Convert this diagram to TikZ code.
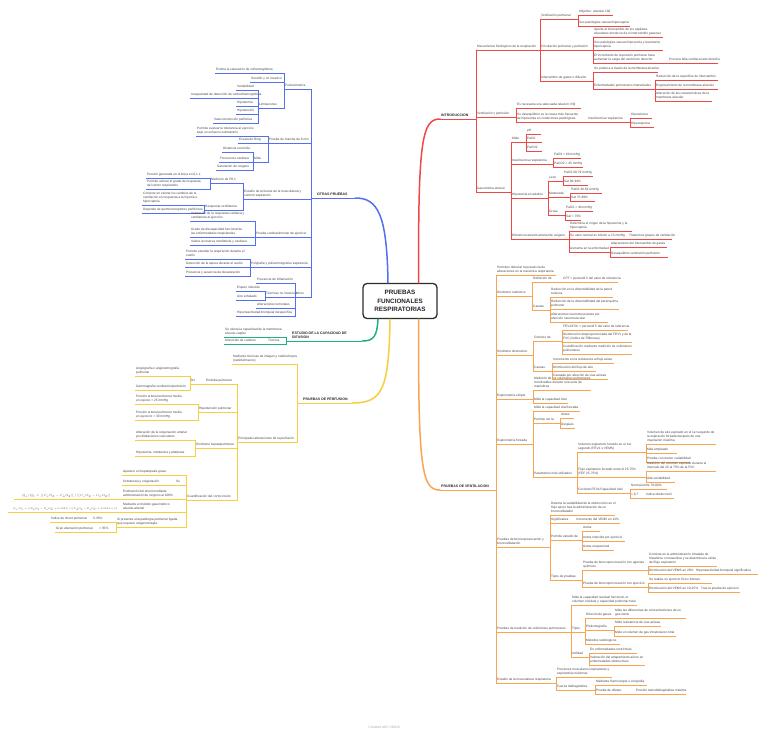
\documentclass[tikz,border=0pt]{standalone}
\usepackage{graphicx}
\usepackage{fontspec}
\setmainfont{Liberation Sans}
\definecolor{cR}{RGB}{240,72,72}
\definecolor{cO}{RGB}{249,164,82}
\definecolor{cB}{RGB}{82,112,240}
\definecolor{cG}{RGB}{32,178,122}
\definecolor{cY}{RGB}{246,206,62}
\definecolor{tx}{RGB}{70,70,70}
\definecolor{ctrc}{RGB}{45,45,45}
\def\bc{cR}
\tikzset{
 nd/.style={inner xsep=0pt, inner ysep=0.7pt, text=tx, font=\fontsize{3.2}{4}\selectfont},
 ul/.style={draw=\bc, line width=0.8pt},
 br/.style={line width=1.5pt, line cap=round},
}
\newcommand\MT[1]{{\fontsize{3.5}{4.3}\selectfont\bfseries\color{black!85}#1}}
\newcommand\N[5]{%
  \pgfmathsetmacro\nw{#3-#2}%
  \node[nd,anchor=south west] (#1) at (#2,#4) {\makebox[\nw pt][l]{\hspace{1pt}\begin{tabular}[b]{@{}l@{}}#5\end{tabular}}};
  \draw[ul] (#1.south west) -- (#1.south east);}
\newcommand\CR[2]{\draw[ul] (#1.south east) |- (#2.south west);}
\newcommand\CL[2]{\draw[ul] (#1.south west) |- (#2.south east);}
\begin{document}
\begin{tikzpicture}[x=1pt,y=-1pt]
\fill[white] (0,0) rectangle (768,733);
\useasboundingbox (0,0) rectangle (768,733);

\node[draw=ctrc, line width=1.3pt, rounded corners=4pt, minimum width=74pt, minimum height=35pt, align=center, font=\fontsize{6.3}{8.2}\selectfont\bfseries, text=black!85, inner sep=1pt] (ctr) at (400,301) {PRUEBAS\\FUNCIONALES\\RESPIRATORIAS};

% ================= RED: INTRODUCCION
\def\bc{cR}
\N{intro}{440}{476}{119}{\MT{INTRODUCCION}}
\N{mec}{476}{540}{50}{Mecanismos fisiológicos de la respiración}
\N{vp}{540}{578}{19}{Ventilación pulmonar}
\N{vpa}{578}{613}{15}{Objetivo: alveolar 100}
\N{vpb}{578}{630}{26}{Sus patologías causan hipercapnia}
\N{cp}{540}{593}{50}{Circulación pulmonar y perfusión}
\N{cpa}{593}{663}{37}{Aporte al intercambio de los capilares\\alveolares donde se da el intercambio gaseoso}
\N{cpb}{593}{663}{50}{Sus patologías causan hipoxemia y levemente\\hipercapnia}
\N{cpc}{593}{668}{63}{El incremento de la presión pulmonar hace\\aumentar la carga del ventrículo derecho}
\N{cpd}{668}{718}{63}{Provoca falla cardiaca lado derecho}
\N{ig}{540}{593}{81}{Intercambio de gases o difusión}
\N{iga}{593}{658}{72}{Se produce a través de la membrana alveolar}
\N{igb}{593}{655}{89}{Enfermedades pulmonares intersticiales}
\N{igc}{655}{718}{80}{Reducción de la superficie de intercambio}
\N{igd}{655}{718}{89}{Engrosamiento de la membrana alveolar}
\N{ige}{655}{712}{101}{Alteración de las características de la\\membrana alveolar}
\N{vyp}{476}{516}{117}{Ventilación y perfusión}
\N{vypa}{516}{581}{108}{Es necesaria una adecuada relación V/Q}
\N{vypb}{516}{587}{122}{Su desequilibrio es la causa más frecuente\\de hipoxemia en condiciones patológicas}
\N{vypc}{587}{630}{122}{Insuficiencia respiratoria}
\N{vypd}{630}{652}{118}{Hipoxémica}
\N{vype}{630}{654}{127}{Hipercápnica}
\N{gas}{476}{511}{192}{Gasometría arterial}
\N{mide}{511}{526}{142}{Mide}
\N{ph}{526}{541}{134}{pH}
\N{pao}{526}{542}{142}{PaO2}
\N{paco}{526}{542}{151}{PaCO2}
\N{ir}{511}{553}{164}{Insuficiencia respiratoria}
\N{ira}{553}{581}{158}{PaO2 < 60 mmHg}
\N{irb}{553}{583}{167}{PaCO2 > 45 mmHg}
\N{hip}{511}{548}{198}{Hipoxemia en adultos}
\N{leve}{548}{563}{181}{Leve}
\N{levea}{563}{593}{176}{PaO2 60-79 mmHg}
\N{leveb}{563}{588}{185}{Sat 90-94\%}
\N{mod}{548}{570}{197}{Moderada}
\N{moda}{570}{602}{193}{PaO2 40-59 mmHg}
\N{modb}{570}{595}{201}{Sat 75-89\%}
\N{grave}{548}{565}{215}{Grave}
\N{gravea}{565}{593}{211}{PaO2 < 40 mmHg}
\N{graveb}{565}{581}{220}{Sat < 75\%}
\N{dif}{511}{569}{239}{Diferencia alveolo-arterial de oxígeno}
\N{difa}{569}{632}{231}{Determina el origen de la hipoxemia y la\\hipercapnia}
\N{difb}{569}{628}{239}{Su valor normal es inferior a 15 mmHg}
\N{difc}{628}{672}{239}{Trastornos graves de ventilación}
\N{difd}{569}{610}{252}{Aumenta en la enfermedad}
\N{dife}{610}{667}{247}{Alteraciones del intercambio de gases}
\N{diff}{610}{668}{257}{Desequilibrio ventilación perfusión}
\CR{intro}{mec}\CR{intro}{vyp}\CR{intro}{gas}
\CR{mec}{vp}\CR{mec}{cp}\CR{mec}{ig}
\CR{vp}{vpa}\CR{vp}{vpb}
\CR{cp}{cpa}\CR{cp}{cpb}\CR{cp}{cpc}\CR{cpc}{cpd}
\CR{ig}{iga}\CR{ig}{igb}\CR{igb}{igc}\CR{igb}{igd}\CR{igb}{ige}
\CR{vyp}{vypa}\CR{vyp}{vypb}\CR{vypb}{vypc}\CR{vypc}{vypd}\CR{vypc}{vype}
\CR{gas}{mide}\CR{gas}{ir}\CR{gas}{hip}\CR{gas}{dif}
\CR{mide}{ph}\CR{mide}{pao}\CR{mide}{paco}
\CR{ir}{ira}\CR{ir}{irb}
\CR{hip}{leve}\CR{hip}{mod}\CR{hip}{grave}
\CR{leve}{levea}\CR{leve}{leveb}\CR{mod}{moda}\CR{mod}{modb}\CR{grave}{gravea}\CR{grave}{graveb}
\CR{dif}{difa}\CR{dif}{difb}\CR{difb}{difc}\CR{dif}{difd}\CR{difd}{dife}\CR{difd}{diff}
\draw[cR,br] ([xshift=-19pt]ctr.north east) .. controls (418,140) and (422,119) .. (intro.south west);

% ================= ORANGE: PRUEBAS DE VENTILACION
\def\bc{cO}
\N{vent}{440}{496}{490}{\MT{PRUEBAS DE VENTILACION}}
\N{v0}{496}{556}{275}{Permiten detectar la presencia de\\alteraciones en la mecánica respiratoria}
\N{sr}{496}{532}{296}{Síndrome restrictivo}
\N{sra}{532}{562}{282}{Definición de}
\N{sraa}{562}{618}{282}{CPT < percentil 5 del valor de referencia}
\N{srb}{532}{550}{310}{Causas}
\N{srba}{550}{613}{297}{Reducción en la distensibilidad de la pared\\torácica}
\N{srbb}{550}{619}{309}{Reducción de la distensibilidad del parénquima\\pulmonar}
\N{srbc}{550}{608}{322}{Alteraciones neuromusculares por\\afección neuromuscular}
\N{so}{496}{533}{355}{Síndrome obstructivo}
\N{soa}{533}{562}{341}{Criterios de}
\N{soaa}{562}{628}{330}{FEV1/FVC < percentil 5 del valor de referencia}
\N{soab}{562}{632}{342}{Disminución desproporcionada del FEV1 y de la\\FVC (índice de Tiffeneau)}
\N{soac}{562}{632}{354}{Cuantificación mediante medición de volúmenes\\pulmonares}
\N{sob}{533}{552}{371}{Causas}
\N{soba}{552}{614}{363}{Incremento en la resistencia al flujo aéreo}
\N{sobb}{552}{596}{371}{Disminución del flujo de aire}
\N{sobc}{552}{608}{379}{Causada por afección de vías aéreas}
\N{es}{496}{533}{399}{Espirometría simple}
\N{esa}{533}{591}{390}{Medición de los volúmenes pulmonares\\movilizables durante una serie de\\maniobras}
\N{esb}{533}{568}{403}{Mide la capacidad vital}
\N{ef}{496}{533}{444}{Espirometría forzada}
\N{efa}{533}{580}{411}{Mide la capacidad vital forzada}
\N{efb}{533}{560}{423}{Permite ver la}
\N{efba}{560}{574}{418}{Antes}
\N{efbb}{560}{575}{428}{Después}
\N{efc}{533}{577}{477}{Parámetros más utilizados}
\N{efca}{577}{646}{452}{Volumen espiratorio forzado en el 1er\\segundo (FEV1 o VEMS)}
\N{efcaa}{646}{716}{444}{Volumen de aire espirado en el 1er segundo de\\la espiración forzada después de una\\inspiración máxima}
\N{efcab}{646}{677}{453}{Más empleado}
\N{efcac}{646}{690}{462}{Prueba con menor variabilidad}
\N{efcb}{577}{646}{477}{Flujo espiratorio forzado entre el 25-75\%\\(FEF 25-75\%)}
\N{efcba}{646}{716}{471}{Medición del volumen espirado durante el\\intervalo del 25 al 75\% de la FVC}
\N{efcbb}{646}{675}{482}{Alta variabilidad}
\N{efcc}{577}{630}{493}{Cociente FEV1/Capacidad vital}
\N{efcca}{630}{667}{489}{Normal entre 70-80\%}
\N{efccb}{630}{645}{498}{< 0,7}
\N{efccc}{645}{674}{498}{Indica obstrucción}
\N{bp}{496}{550}{547}{Pruebas de broncoprovocación y\\broncodilatación}
\N{bpa}{550}{615}{515}{Detecta la variabilidad de la obstrucción en el\\flujo aéreo tras la administración de un\\broncodilatador}
\N{bpb}{550}{575}{523}{Significativa}
\N{bpba}{575}{620}{523}{Incremento del VEMS en 12\%}
\N{bpc}{550}{582}{540}{Permite estudio de}
\N{bpca}{582}{600}{531}{Asma}
\N{bpcb}{582}{625}{541}{Asma inducida por ejercicio}
\N{bpcc}{582}{614}{550}{Asma ocupacional}
\N{bpd}{550}{582}{580}{Tipos de pruebas}
\N{bpda}{582}{648}{570}{Prueba de broncoprovocación con agentes\\químicos}
\N{bpdaa}{648}{717}{566}{Consiste en la administración inhalada de\\histamina o metacolina y se determina la caída\\del flujo espiratorio}
\N{bpdab}{648}{695}{574}{Disminución del VEMS en 20\%}
\N{bpdac}{695}{758}{574}{Hiperreactividad bronquial significativa}
\N{bpdb}{582}{648}{587}{Prueba de broncoprovocación con ejercicio}
\N{bpdba}{648}{712}{583}{Se realiza un ejercicio físico intenso}
\N{bpdbb}{648}{700}{592}{Disminución del VEMS en 10-15\%}
\N{bpdbc}{700}{740}{592}{Tras la prueba de ejercicio}
\N{vol}{496}{571}{632}{Pruebas de medición de volúmenes pulmonares}
\N{vola}{571}{637}{605}{Mide la capacidad residual funcional, el\\volumen residual y capacidad pulmonar total}
\N{volb}{571}{585}{632}{Tipos}
\N{volba}{585}{614}{618}{Dilución de gases}
\N{volbaa}{614}{686}{618}{Mide las diferencias de concentraciones de un\\gas inerte}
\N{volbb}{585}{614}{630}{Pletismografía}
\N{volbba}{614}{661}{626}{Mide resistencia de vías aéreas}
\N{volbbb}{614}{676}{636}{Mide el volumen de gas intratorácico total}
\N{volbc}{585}{620}{644}{Métodos radiológicos}
\N{volc}{571}{589}{657}{Utilidad}
\N{volca}{589}{637}{653}{En enfermedades restrictivas}
\N{volcb}{589}{645}{665}{Valoración del atrapamiento aéreo en\\enfermedades obstructivas}
\N{mus}{496}{556}{683}{Estudio de la musculatura respiratoria}
\N{musa}{556}{612}{677}{Presiones musculares inspiratorias y\\espiratorias máximas}
\N{musb}{556}{595}{690}{Fuerza diafragmática}
\N{musba}{595}{647}{685}{Mediante fluoroscopia o ecografía}
\N{musbb}{595}{635}{694}{Prueba de olfateo}
\N{musbc}{635}{686}{694}{Presión transdiafragmática máxima}
\CR{vent}{v0}\CR{vent}{sr}\CR{vent}{so}\CR{vent}{es}\CR{vent}{ef}\CR{vent}{bp}\CR{vent}{vol}\CR{vent}{mus}
\CR{sr}{sra}\CR{sra}{sraa}\CR{sr}{srb}\CR{srb}{srba}\CR{srb}{srbb}\CR{srb}{srbc}
\CR{so}{soa}\CR{soa}{soaa}\CR{soa}{soab}\CR{soa}{soac}\CR{so}{sob}\CR{sob}{soba}\CR{sob}{sobb}\CR{sob}{sobc}
\CR{es}{esa}\CR{es}{esb}
\CR{ef}{efa}\CR{ef}{efb}\CR{efb}{efba}\CR{efb}{efbb}\CR{ef}{efc}
\CR{efc}{efca}\CR{efca}{efcaa}\CR{efca}{efcab}\CR{efca}{efcac}
\CR{efc}{efcb}\CR{efcb}{efcba}\CR{efcb}{efcbb}
\CR{efc}{efcc}\CR{efcc}{efcca}\CR{efcc}{efccb}\CR{efccb}{efccc}
\CR{bp}{bpa}\CR{bp}{bpb}\CR{bpb}{bpba}\CR{bp}{bpc}\CR{bpc}{bpca}\CR{bpc}{bpcb}\CR{bpc}{bpcc}
\CR{bp}{bpd}\CR{bpd}{bpda}\CR{bpda}{bpdaa}\CR{bpda}{bpdab}\CR{bpdab}{bpdac}
\CR{bpd}{bpdb}\CR{bpdb}{bpdba}\CR{bpdb}{bpdbb}\CR{bpdbb}{bpdbc}
\CR{vol}{vola}\CR{vol}{volb}\CR{volb}{volba}\CR{volba}{volbaa}\CR{volb}{volbb}\CR{volbb}{volbba}\CR{volbb}{volbbb}\CR{volb}{volbc}
\CR{vol}{volc}\CR{volc}{volca}\CR{volc}{volcb}
\CR{mus}{musa}\CR{mus}{musb}\CR{musb}{musba}\CR{musb}{musbb}\CR{musbb}{musbc}
\draw[cO,br] ([xshift=-19pt]ctr.south east) .. controls (418,470) and (422,490) .. (vent.south west);

% ================= BLUE: OTRAS PRUEBAS
\def\bc{cB}
\N{otras}{311}{355}{198}{\hspace*{5pt}\MT{OTRAS PRUEBAS}}
\N{pul}{284}{311}{89}{Pulsioximetría}
\N{pula}{215}{284}{73}{Estima la saturación de oxihemoglobina}
\N{pulb}{250}{284}{82}{Sencillo y no invasivo}
\N{lim}{258}{284}{108}{Limitaciones}
\N{lima}{236}{258}{90}{Variabilidad}
\N{limb}{190}{258}{98}{Incapacidad de detección de carboxihemoglobina}
\N{limc}{236}{258}{106}{Hipotermia}
\N{limd}{236}{258}{114}{Hipotensión}
\N{lime}{213}{258}{123}{Vasoconstricción periférica}
\N{pm}{268}{311}{143}{Prueba de marcha de 6 min}
\N{pma}{196}{268}{136}{Permite evaluar la tolerancia al ejercicio\\bajo un esfuerzo submáximo}
\N{pmb}{238}{268}{143}{Escala de Borg}
\N{pmc}{253}{268}{162}{Mide}
\N{pmca}{222}{253}{152}{Distancia recorrida}
\N{pmcb}{219}{253}{162}{Frecuencia cardiaca}
\N{pmcc}{216}{253}{170}{Saturación de oxígeno}
\N{fm}{243}{311}{199}{Estudio de la fuerza de la musculatura y\\control respiratorio}
\N{fma}{210}{243}{183}{Medición de P0.1}
\N{fmaa}{146}{210}{178}{Presión generada en la boca en 0,1 s}
\N{fmab}{146}{210}{189}{Permite valorar el grado de respuesta\\del centro respiratorio}
\N{fmb}{204}{243}{210}{Respuesta ventilatoria}
\N{fmba}{142}{204}{205}{Consiste en valorar los cambios de la\\ventilación en respuesta a la hipoxia e\\hipercapnia}
\N{fmbb}{142}{204}{213}{Depende de quimiorreceptores periféricos}
\N{cpe}{255}{311}{237}{Prueba cardiopulmonar de ejercicio}
\N{cpea}{190}{255}{221}{Valoración de la respuesta cardiaca y\\ventilatoria al ejercicio}
\N{cpeb}{190}{255}{237}{Grado de discapacidad funcional de\\las enfermedades respiratorias}
\N{cpec}{190}{255}{245}{Valora la reserva ventilatoria y cardiaca}
\N{pol}{250}{311}{267}{Poligrafía y polisomnografía respiratoria}
\N{pola}{185}{250}{259}{Permite estudiar la respiración durante el\\sueño}
\N{polb}{185}{250}{267}{Detección de la apnea durante el sueño}
\N{polc}{185}{250}{276}{Presencia y ausencia de desaturación}
\N{otros}{295}{311}{297}{Otros}
\N{ota}{256}{295}{283}{Presencia de inflamación}
\N{otb}{265}{295}{297}{Técnicas no invasivas}
\N{otba}{236}{265}{291}{Esputo inducido}
\N{otbb}{236}{265}{300}{Aire exhalado}
\N{otc}{256}{295}{308}{Alteraciones tumorales}
\N{otd}{236}{295}{316}{Hiperreactividad bronquial inespecífica}
\CL{otras}{pul}\CL{otras}{pm}\CL{otras}{fm}\CL{otras}{cpe}\CL{otras}{pol}\CL{otras}{otros}
\CL{pul}{pula}\CL{pul}{pulb}\CL{pul}{lim}
\CL{lim}{lima}\CL{lim}{limb}\CL{lim}{limc}\CL{lim}{limd}\CL{lim}{lime}
\CL{pm}{pma}\CL{pm}{pmb}\CL{pm}{pmc}\CL{pmc}{pmca}\CL{pmc}{pmcb}\CL{pmc}{pmcc}
\CL{fm}{fma}\CL{fma}{fmaa}\CL{fma}{fmab}\CL{fm}{fmb}\CL{fmb}{fmba}\CL{fmb}{fmbb}
\CL{cpe}{cpea}\CL{cpe}{cpeb}\CL{cpe}{cpec}
\CL{pol}{pola}\CL{pol}{polb}\CL{pol}{polc}
\CL{otros}{ota}\CL{otros}{otb}\CL{otb}{otba}\CL{otb}{otbb}\CL{otros}{otc}\CL{otros}{otd}
\draw[cB,br] ([xshift=-12pt]ctr.north) .. controls (387,215) and (378,198) .. (otras.south east);

% ================= GREEN: DIFUSION
\def\bc{cG}
\N{dfs}{286}{362}{341}{\hspace*{5pt}\MT{ESTUDIO DE LA CAPACIDAD DE}\\\hspace*{5pt}\MT{DIFUSION}}
\N{dfa}{224}{286}{337}{Se valora la capacidad de la membrana\\alveolo-capilar}
\N{dfb}{267}{286}{344}{Técnica}
\N{dfba}{224}{267}{344}{Monóxido de carbono}
\CL{dfs}{dfa}\CL{dfs}{dfb}\CL{dfb}{dfba}
\draw[cG,br] ([xshift=-22pt]ctr.south) .. controls (377,336) and (374,341) .. (dfs.south east);

% ================= YELLOW: PERFUSION
\def\bc{cY}
\N{perf}{297}{352}{403}{\hspace*{5pt}\MT{PRUEBAS DE PERFUSION}}
\N{pfa}{232}{297}{364}{Mediante técnicas de imagen y radioisótopos\\(radiofármacos)}
\N{pfb}{237}{297}{442}{Principales alteraciones de la perfusión}
\N{emb}{205}{237}{384}{Embolia pulmonar}
\N{emba}{190}{205}{384}{Dx}
\N{embaa}{135}{190}{376}{Angiografía o angiotomografía\\pulmonar}
\N{embab}{135}{190}{390}{Gammagrafía ventilación/perfusión}
\N{hp}{198}{237}{412}{Hipertensión pulmonar}
\N{hpa}{135}{198}{404}{Presión arterial pulmonar media\\en reposo > 25 mmHg}
\N{hpb}{135}{198}{420}{Presión arterial pulmonar media\\en ejercicio > 30 mmHg}
\N{shp}{195}{237}{448}{Síndrome hepatopulmonar}
\N{shpa}{135}{195}{440}{Alteración de la oxigenación arterial\\por dilataciones vasculares}
\N{shpb}{135}{195}{456}{Hipoxemia, ortodeoxia y platipnea}
\N{cc}{186}{237}{500}{Cuantificación del cortocircuito}
\N{cca}{122}{186}{475}{Aparece en hepatopatía grave}
\N{ccb}{175}{186}{485}{Su}
\N{ccba}{122}{175}{485}{Ortodeoxia y oxigenación}
\N{ccc}{122}{186}{499}{Estimación del shunt mediante\\administración de oxígeno al 100\%}
\N{ccca}{14}{122}{499}{\hspace*{7pt}\resizebox{88pt}{!}{$Q_s/Q_t=[(C_cO_2-C_aO_2)]\,/\,[(C_cO_2-C_{\bar v}O_2)]$}}
\N{ccd}{122}{186}{512}{Mediante el método gasométrico\\alveolo-arterial}
\N{ccda}{8}{122}{512}{\hspace*{4pt}\resizebox{104pt}{!}{$Q_s/Q_t=([P_AO_2-P_aO_2]\times0.0031)\,/\,([P_AO_2-P_aO_2]\times0.0031+5)$}}
\N{cce}{116}{186}{527}{Si presenta una patología pulmonar ligada\\que requiere oxigenoterapia}
\N{ccea}{92}{116}{522}{5-35\%}
\N{cceaa}{50}{92}{522}{Índice de shunt pulmonar}
\N{cceb}{98}{116}{532}{> 35\%}
\N{ccebb}{55}{98}{532}{Gran afectación pulmonar}
\CL{perf}{pfa}\CL{perf}{pfb}
\CL{pfb}{emb}\CL{emb}{emba}\CL{emba}{embaa}\CL{emba}{embab}
\CL{pfb}{hp}\CL{hp}{hpa}\CL{hp}{hpb}
\CL{pfb}{shp}\CL{shp}{shpa}\CL{shp}{shpb}
\CL{pfb}{cc}\CL{cc}{cca}\CL{cc}{ccb}\CL{ccb}{ccba}\CL{cc}{ccc}\CL{ccc}{ccca}\CL{cc}{ccd}\CL{ccd}{ccda}
\CL{cc}{cce}\CL{cce}{ccea}\CL{ccea}{cceaa}\CL{cce}{cceb}\CL{cceb}{ccebb}
\draw[cY,br] ([xshift=-10pt]ctr.south) .. controls (389,390) and (382,403) .. (perf.south east);

\node[text=black!30, font=\fontsize{3.6}{4}\selectfont] (foot) at (384,727) {Created with XMind};
\end{tikzpicture}
\end{document}
